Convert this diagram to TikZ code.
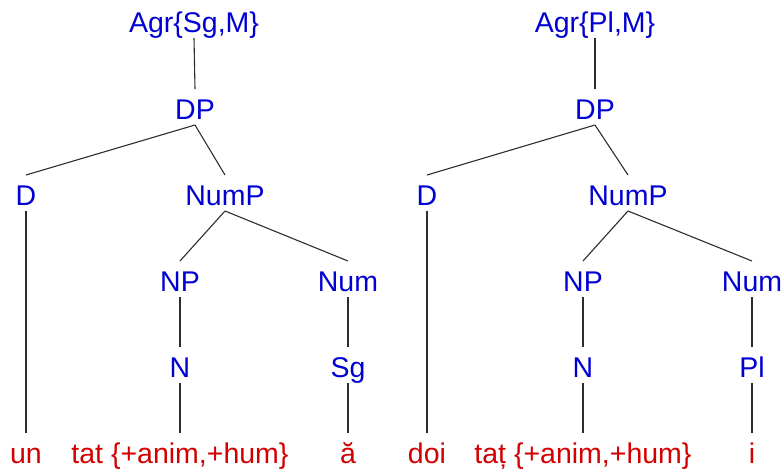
\documentclass[tikz,border=0pt]{standalone}
\usepackage{fontspec}
\setmainfont{Liberation Sans}
\definecolor{catblue}{RGB}{0,0,210}
\definecolor{wordred}{RGB}{210,0,0}
\definecolor{edgegray}{RGB}{45,45,45}
\begin{document}
\begin{tikzpicture}[x=1pt,y=-1pt,
  cat/.style={anchor=base,text=catblue,font=\fontsize{28.5}{32}\selectfont,
    text height=24pt,text depth=0pt,inner xsep=0pt,inner ysep=6pt,outer sep=0pt},
  word/.style={cat,text=wordred},
  edge/.style={draw=edgegray,line width=1.1pt}]
\useasboundingbox (0,0) rectangle (784,472);
% left tree
\node[cat] (lAgr) at (194,32) {Agr\{Sg,M\}};
\node[cat] (lDP) at (195,119) {DP};
\node[cat] (lD) at (26,205) {D};
\node[cat] (lNumP) at (225,205) {NumP};
\node[cat] (lNP) at (180,291) {NP};
\node[cat] (lNum) at (348,291) {Num};
\node[cat] (lN) at (180,377) {N};
\node[cat] (lSg) at (348,377) {Sg};
\node[word] (lun) at (26,463) {un};
\node[word] (ltat) at (180,463) {tat \{+anim,+hum\}};
\node[word] (la) at (348,463) {ă};
\draw[edge] (lAgr.south) -- (lDP.north);
\draw[edge] (lDP.south) -- (lD.north);
\draw[edge] (lDP.south) -- (lNumP.north);
\draw[edge] (lD.south) -- (lun.north);
\draw[edge] (lNumP.south) -- (lNP.north);
\draw[edge] (lNumP.south) -- (lNum.north);
\draw[edge] (lNP.south) -- (lN.north);
\draw[edge] (lNum.south) -- (lSg.north);
\draw[edge] (lN.south) -- (ltat.north);
\draw[edge] (lSg.south) -- (la.north);
% right tree
\node[cat] (rAgr) at (595,32) {Agr\{Pl,M\}};
\node[cat] (rDP) at (595,119) {DP};
\node[cat] (rD) at (427,205) {D};
\node[cat] (rNumP) at (628,205) {NumP};
\node[cat] (rNP) at (583,291) {NP};
\node[cat] (rNum) at (752,291) {Num};
\node[cat] (rN) at (583,377) {N};
\node[cat] (rPl) at (752,377) {Pl};
\node[word] (rdoi) at (427,463) {doi};
\node[word] (rtat) at (583,463) {taț \{+anim,+hum\}};
\node[word] (ri) at (752,463) {i};
\draw[edge] (rAgr.south) -- (rDP.north);
\draw[edge] (rDP.south) -- (rD.north);
\draw[edge] (rDP.south) -- (rNumP.north);
\draw[edge] (rD.south) -- (rdoi.north);
\draw[edge] (rNumP.south) -- (rNP.north);
\draw[edge] (rNumP.south) -- (rNum.north);
\draw[edge] (rNP.south) -- (rN.north);
\draw[edge] (rNum.south) -- (rPl.north);
\draw[edge] (rN.south) -- (rtat.north);
\draw[edge] (rPl.south) -- (ri.north);
\end{tikzpicture}
\end{document}
